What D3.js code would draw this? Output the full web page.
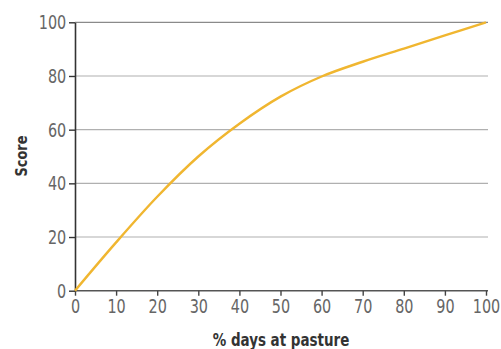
<!DOCTYPE html>
<html>
<head>
<meta charset="utf-8">
<script src="https://d3js.org/d3.v7.min.js"></script>
<style>
  body { margin: 0; background: #fff; }
  svg text { font-family: "DejaVu Sans Condensed", "Liberation Sans Narrow", "Liberation Sans", sans-serif; }
</style>
</head>
<body>
<div id="chart"></div>
<script>
// data
var pasture = [0, 10, 20, 30, 40, 50, 60, 70, 80, 90, 100];
var score = [0, 18, 35, 50, 62.2, 72.3, 79.8, 85.3, 90.2, 95.1, 100];
var xTicks = [0, 10, 20, 30, 40, 50, 60, 70, 80, 90, 100];
var yTicks = [0, 20, 40, 60, 80, 100];

function init() {
    var w = 501;
    var h = 349;
    var margin = {top: 22.3, right: 15, bottom: 58.3, left: 75};

    var svg = d3.select("#chart")
        .append("svg")
        .attr("width", w)
        .attr("height", h);

    var xScale = d3.scaleLinear()
        .domain([0, 100])
        .range([margin.left, w - margin.right]);

    var yScale = d3.scaleLinear()
        .domain([0, 100])
        .range([h - margin.bottom, margin.top]);

    // gridlines
    svg.append("g")
        .selectAll("line")
        .data(yTicks.filter(d => d > 0))
        .enter()
        .append("line")
        .attr("x1", xScale(0))
        .attr("x2", xScale(100) + 2)
        .attr("y1", d => yScale(d))
        .attr("y2", d => yScale(d))
        .attr("stroke", d => d == 100 ? "#8a8a8a" : "#b0b0b0")
        .attr("stroke-width", 1.2);

    var xAxis = d3.axisBottom(xScale)
        .tickValues(xTicks)
        .tickSize(5)
        .tickSizeOuter(0);

    var yAxis = d3.axisLeft(yScale)
        .tickValues(yTicks)
        .tickSize(6)
        .tickSizeOuter(0);

    var gx = svg.append("g")
        .attr("transform", "translate(0," + yScale(0) + ")")
        .call(xAxis);
    gx.select(".domain").attr("d", "M" + xScale(0) + ",0H" + (xScale(100) + 2)).attr("stroke", "#555").attr("stroke-width", 1.6);
    gx.selectAll(".tick line").attr("stroke", "#444").attr("stroke-width", 1.4);
    // narrow the labels, the original uses a condensed face
    gx.selectAll(".tick text")
        .attr("y", 8)
        .attr("transform", "scale(0.8,1)")
        .attr("font-size", "20px")
        .attr("fill", "#666");

    var gy = svg.append("g")
        .attr("transform", "translate(" + xScale(0) + ",0)")
        .call(yAxis);
    gy.select(".domain").attr("stroke", "#333").attr("stroke-width", 1.6);
    gy.selectAll(".tick line").attr("stroke", "#333").attr("stroke-width", 1.4);
    gy.selectAll(".tick text")
        .attr("x", -11)
        .attr("transform", "scale(0.8,1)")
        .attr("font-size", "20px")
        .attr("fill", "#666");

    var line = d3.line()
        .x((d, i) => xScale(pasture[i]))
        .y(d => yScale(d))
        .curve(d3.curveCatmullRom.alpha(0.5));

    svg.append("path")
        .datum(score)
        .attr("d", line)
        .attr("fill", "none")
        .attr("stroke", "#f0b630")
        .attr("stroke-width", 2.4);

    // axis titles
    svg.append("text")
        .attr("transform", "translate(281,346) scale(0.88,1)")
        .attr("text-anchor", "middle")
        .attr("font-size", "17px")
        .attr("font-weight", "bold")
        .attr("fill", "#333")
        .text("% days at pasture");

    svg.append("text")
        .attr("transform", "translate(27,156) rotate(-90) scale(0.9,1)")
        .attr("text-anchor", "middle")
        .attr("font-size", "16px")
        .attr("font-weight", "bold")
        .attr("fill", "#333")
        .text("Score");
}

window.onload = init;
</script>
</body>
</html>
